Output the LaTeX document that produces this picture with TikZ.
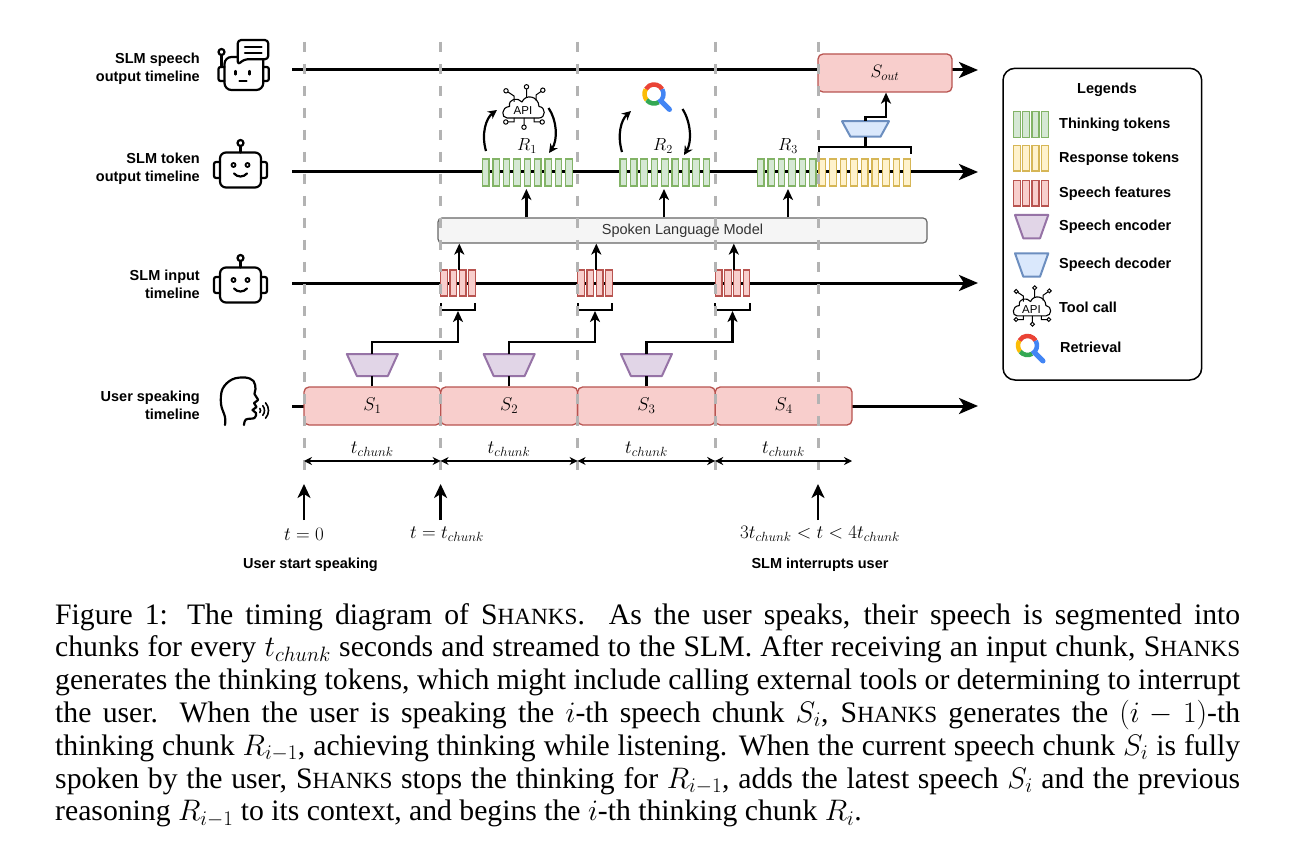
\documentclass[tikz,border=0pt]{standalone}
\usepackage{fix-cm}
\usepackage{fontspec}
\setmainfont{Liberation Serif}
\newfontfamily\hv{Liberation Sans}
\usetikzlibrary{arrows.meta}
\definecolor{gfill}{HTML}{D5E8D4}\definecolor{gdraw}{HTML}{82B366}
\definecolor{yfill}{HTML}{FFF2CC}\definecolor{ydraw}{HTML}{D6B656}
\definecolor{rfill}{HTML}{F8CECC}\definecolor{rdraw}{HTML}{B85450}
\definecolor{pfill}{HTML}{E1D5E7}\definecolor{pdraw}{HTML}{9673A6}
\definecolor{bfill}{HTML}{DAE8FC}\definecolor{bdraw}{HTML}{6C8EBF}
\definecolor{slmfill}{HTML}{F5F5F5}\definecolor{slmdraw}{HTML}{666666}
\definecolor{slmtxt}{HTML}{333333}
\definecolor{dashc}{HTML}{B3B3B3}
\definecolor{gred}{HTML}{EA4335}\definecolor{gyel}{HTML}{FBBC05}
\definecolor{ggrn}{HTML}{34A853}\definecolor{gblu}{HTML}{4285F4}
\newcommand\shk{S{\fontsize{23.2}{24}\selectfont HANKS}\spacefactor1000 }
\newcommand\capline[1]{\makebox[1185pt][s]{#1}}
\tikzset{
  timeline/.style={line width=3pt,-{Stealth[length=19pt,width=16pt,inset=5pt]}},
  conn/.style={line width=2.2pt,-{Stealth[length=11pt,width=10pt,inset=3pt]}},
  curv/.style={line width=2.2pt,-{Stealth[length=9pt,width=9pt,inset=3pt]}},
  brk/.style={line width=2.2pt},
  vdash/.style={draw=dashc,line width=3pt,dash pattern=on 10pt off 12pt},
  gtok/.style={fill=gfill,draw=gdraw,line width=1.2pt},
  ytok/.style={fill=yfill,draw=ydraw,line width=1.2pt},
  rtok/.style={fill=rfill,draw=rdraw,line width=1.2pt},
  enc/.style={fill=pfill,draw=pdraw,line width=2pt,line join=round},
  dec/.style={fill=bfill,draw=bdraw,line width=2pt,line join=round},
  sbox/.style={fill=rfill,draw=rdraw,line width=1.3pt,rounded corners=5pt,minimum height=38pt,inner sep=0pt,font=\fontsize{18.5}{20}\selectfont},
  rowlab/.style={align=right,anchor=east,font=\hv\bfseries\fontsize{14.5}{18}\selectfont,inner sep=0pt},
  leglab/.style={anchor=west,font=\hv\bfseries\fontsize{14.5}{18}\selectfont,inner sep=0pt},
  icon/.style={line width=2.2pt,line join=round,line cap=round},
  mlab/.style={inner sep=0pt,font=\fontsize{17.5}{20}\selectfont},
  tlab/.style={inner sep=0pt,font=\fontsize{19}{20}\selectfont},
  dimarr/.style={line width=1.5pt,{Stealth[length=8pt,width=8pt]}-{Stealth[length=8pt,width=8pt]}},
  uparr/.style={line width=2.5pt,-{Stealth[length=14pt,width=13pt,inset=4pt]}},
  caplab/.style={anchor=base west,inner sep=0pt,font=\fontsize{29.7}{32.8}\selectfont},
  trap/.pic={\path[pic actions] (-25.5,-11) -- (25.5,-11) -- (15.5,11) -- (-15.5,11) -- cycle;},
  trapd/.pic={\path[pic actions] (-23.5,-7.75) -- (23.5,-7.75) -- (15,7.75) -- (-15,7.75) -- cycle;},
  robot/.pic={
    \draw[icon,rounded corners=6pt] (-20.5,-17.5) rectangle (20.5,17.5);
    \draw[icon,rounded corners=2pt] (-20.5,-8) -- (-26.5,-8) -- (-26.5,8) -- (-20.5,8);
    \draw[icon,rounded corners=2pt] (20.5,-8) -- (26.5,-8) -- (26.5,8) -- (20.5,8);
    \draw[icon] (0,-17.5) -- (0,-24);
    \draw[icon] (0,-27) circle[radius=3];
    \draw[line width=1.8pt] (-7,-5) circle[radius=2] (7,-5) circle[radius=2];
    \draw[icon] (-6.5,3.5) .. controls (-3,7.5) and (3,7.5) .. (6.5,3.5);
  },
  apiicon/.pic={
    \draw[line width=1.1pt,line join=round] (-16,11) -- (16,11) .. controls (23,11) and (23,0) .. (16,-0.5) .. controls (15.5,-11) and (2.5,-13.5) .. (-1,-5) .. controls (-5,-10) and (-15,-8.5) .. (-13.5,-0.5) .. controls (-22,0) and (-22,11) .. (-16,11) -- cycle;
    \node[font=\hv\fontsize{11.5}{12}\selectfont,inner sep=0pt] at (0,3.5) {API};
    \draw[line width=1pt] (-9,-5) -- (-9,-11) -- (-15,-15) (3.5,-10) -- (3.5,-18) (13,-6) -- (13,-12) -- (18,-15.5)
      (-9,11) -- (-9,15) -- (-15,15) (1,11) -- (1,18) (11,11) -- (11,15) -- (17,15);
    \draw[line width=1pt] (-17,-16.2) circle[radius=2.2] (3.5,-20.2) circle[radius=2.2] (19.8,-16.8) circle[radius=2.2]
      (-17.2,15) circle[radius=2.2] (1,20.2) circle[radius=2.2] (19.2,15) circle[radius=2.2];
  },
  retr/.pic={
    \draw[line width=4.5pt,gred] (-30:9.5) arc[start angle=-30,end angle=-150,radius=9.5];
    \draw[line width=4.5pt,gyel] (-150:9.5) arc[start angle=-150,end angle=-220,radius=9.5];
    \draw[line width=4.5pt,ggrn] (-220:9.5) arc[start angle=-220,end angle=-300,radius=9.5];
    \draw[line width=4.5pt,gblu] (-300:9.5) arc[start angle=-300,end angle=-390,radius=9.5];
    \draw[line width=5pt,gblu,line cap=round] (7,7) -- (15.5,15.5);
  },
}
\begin{document}
\begin{tikzpicture}[x=1pt,y=-1pt]
\useasboundingbox (0,0) rectangle (1296,861);
\fill[white] (0,0) rectangle (1296,861);

% ---------- row labels and icons ----------
\node[rowlab] (lab1) at (200,68.3) {SLM speech\\output timeline};
\node[rowlab] (lab2) at (200,168.7) {SLM token\\output timeline};
\node[rowlab] (lab3) at (200,284) {SLM input\\timeline};
\node[rowlab] (lab4) at (200,405.8) {User speaking\\timeline};

% speech-output robot
\draw[icon,rounded corners=7pt] (238,57) -- (224.5,57) -- (224.5,90) -- (263.3,90) -- (263.3,60);
\draw[icon,rounded corners=2pt] (224.5,67) -- (218.5,67) -- (218.5,81) -- (224.5,81);
\draw[icon,rounded corners=2pt] (263.3,67) -- (268.8,67) -- (268.8,81) -- (263.3,81);
\draw[icon] (221.5,55) -- (221.5,67);
\draw[icon] (221.5,52) circle[radius=3];
\draw[icon,fill=white,rounded corners=3.5pt] (237.7,65) -- (237.7,40) -- (268.3,40) -- (268.3,59.3) -- (244,59.3) -- cycle;
\draw[icon] (245,47.3) -- (261.5,47.3) (245,52.8) -- (261.5,52.8);
\draw[icon] (235.5,71) -- (235.5,74.5) (249.5,71) -- (249.5,74.5);
\draw[icon] (239.5,81) -- (246.5,81);

\pic at (240.5,170) {robot};
\pic at (240.5,285) {robot};

% user head
\draw[icon] plot[smooth,tension=0.6] coordinates {(225,425) (225,417) (221,404) (222.5,389) (232,379.5) (245,377.5) (253.5,381) (255.5,389) (254.5,394) (258,400) (254,403) (256.5,407) (252.5,410) (256,413) (254.5,418) (246,419.5) (244,425)};
\draw[line width=1.6pt,line cap=round] ([shift={(35:3.5)}]257,410.5) arc[start angle=35,end angle=-35,radius=3.5];
\draw[line width=1.6pt,line cap=round] ([shift={(40:7.5)}]257,410.5) arc[start angle=40,end angle=-40,radius=7.5];
\draw[line width=1.6pt,line cap=round] ([shift={(42:11.5)}]257,410.5) arc[start angle=42,end angle=-42,radius=11.5];

% ---------- timelines ----------
\coordinate (a1) at (292,70);  \coordinate (b1) at (978,70);
\coordinate (a2) at (292,172); \coordinate (b2) at (978,172);
\coordinate (a3) at (292,283); \coordinate (b3) at (978,283);
\coordinate (a4) at (292,406); \coordinate (b4) at (978,406);
\draw[timeline] (a1) -- (b1);
\draw[timeline] (a2) -- (b2);
\draw[timeline] (a3) -- (b3);
\draw[timeline] (a4) -- (b4);

% ---------- user speech chunks ----------
\node[sbox,minimum width=136.7pt] (s1) at (372.35,406) {$S_1$};
\node[sbox,minimum width=136.9pt] (s2) at (509.15,406) {$S_2$};
\node[sbox,minimum width=137.6pt] (s3) at (646.4,406) {$S_3$};
\node[sbox,minimum width=136.8pt] (s4) at (783.6,406) {$S_4$};

% ---------- encoders and feature tokens ----------
\pic[enc] at (372.35,365) {trap};
\pic[enc] at (509.15,365) {trap};
\pic[enc] at (646.4,365) {trap};
\coordinate (e1t) at (372.35,354); \coordinate (e1b) at (372.35,376);
\coordinate (e2t) at (509.15,354); \coordinate (e2b) at (509.15,376);
\coordinate (e3t) at (646.4,354);  \coordinate (e3b) at (646.4,376);
\draw[brk] (s1.north) -- (e1b);
\draw[brk] (s2.north) -- (e2b);
\draw[brk] (s3.north) -- (e3b);

\foreach \g in {440.7,577.7,715.2}{
  \foreach \i in {0,...,3} \draw[rtok] ({\g+9.3*\i},270) rectangle ++(6.7,26);
  \draw[brk] (\g,303) -- (\g,310) -- ({\g+34.6},310) -- ({\g+34.6},303);
}
\coordinate (j1) at (458,342); \coordinate (k1) at (458,311);
\coordinate (j2) at (595,342); \coordinate (k2) at (595,311);
\coordinate (j3) at (732.5,342); \coordinate (k3) at (732.5,311);
\draw[conn] (e1t) |- (j1) -- (k1);
\draw[conn] (e2t) |- (j2) -- (k2);
\draw[conn] (e3t) |- (j3) -- (k3);

% ---------- SLM ----------
\node[fill=slmfill,draw=slmdraw,line width=1.2pt,rounded corners=4pt,minimum width=489pt,minimum height=25pt,inner sep=0pt,text=slmtxt,font=\hv\fontsize{14.5}{16}\selectfont] (slm) at (682.5,230.5) {Spoken Language Model};
\coordinate (f1) at (459.3,270); \coordinate (f2) at (596.3,270); \coordinate (f3) at (733.8,270);
\draw[conn] (f1) -- (slm.south -| f1);
\draw[conn] (f2) -- (slm.south -| f2);
\draw[conn] (f3) -- (slm.south -| f3);

% ---------- thinking / response tokens ----------
\foreach \i in {0,...,8} \draw[gtok] ({482.5+10.4*\i},159) rectangle ++(6.5,27);
\foreach \i in {0,...,8} \draw[gtok] ({620+10.4*\i},159) rectangle ++(6.5,27);
\foreach \i in {0,...,5} \draw[gtok] ({757.5+10.4*\i},159) rectangle ++(6.5,27);
\foreach \i in {0,...,8} \draw[ytok] ({819+10.6*\i},159) rectangle ++(6.5,27);
\coordinate (t1) at (526.4,189); \coordinate (t2) at (664,189); \coordinate (t3) at (788,189);
\draw[conn] (slm.north -| t1) -- (t1);
\draw[conn] (slm.north -| t2) -- (t2);
\draw[conn] (slm.north -| t3) -- (t3);
\node[mlab] (r1) at (527,146) {$R_1$};
\node[mlab] (r2) at (663,146) {$R_2$};
\node[mlab] (r3) at (788,146) {$R_3$};

% tool call / retrieval
\pic at (523,107) {apiicon};
\pic at (654,94) {retr};
\coordinate (c1a) at (486,151); \coordinate (c1b) at (497,110);
\coordinate (c1c) at (548.5,108); \coordinate (c1d) at (549,153);
\draw[curv] (c1a) .. controls (481,134) and (486,118) .. (c1b);
\draw[curv] (c1c) .. controls (557,120) and (558,140) .. (c1d);
\coordinate (c2a) at (622,152); \coordinate (c2b) at (631,111);
\coordinate (c2c) at (682.5,109); \coordinate (c2d) at (684,155);
\draw[curv] (c2a) .. controls (617,135) and (621,120) .. (c2b);
\draw[curv] (c2c) .. controls (691,122) and (692,142) .. (c2d);

% ---------- decoder and speech output ----------
\draw[brk] (819.3,154) -- (819.3,147) -- (910.7,147) -- (910.7,154);
\pic[dec] at (865.5,129) {trapd};
\coordinate (yb) at (865.5,147); \coordinate (db) at (865.5,136.75); \coordinate (dt) at (865.5,121.25);
\draw[brk] (yb) -- (db);
\node[sbox,font=\fontsize{18}{20}\selectfont,minimum width=134pt] (sout) at (885,73) {$S_{out}$};
\coordinate (dj) at (886,117);
\draw[conn] (dt) |- (dj) -- (sout.south -| dj);

% ---------- dashed time markers ----------
\foreach \x in {304,440.6,577.6,715.2,818} \draw[vdash] (\x,42) -- (\x,480);

% ---------- chunk durations ----------
\coordinate (d0) at (304,461); \coordinate (d1) at (440.6,461); \coordinate (d2) at (577.6,461);
\coordinate (d3) at (715.2,461); \coordinate (d4) at (852,461);
\draw[dimarr] (d0) -- (d1);
\draw[dimarr] (d1) -- (d2);
\draw[dimarr] (d2) -- (d3);
\draw[dimarr] (d3) -- (d4);
\node[tlab] (tc1) at (372.3,449) {$t_{chunk}$};
\node[tlab] (tc2) at (509.1,449) {$t_{chunk}$};
\node[tlab] (tc3) at (646.4,449) {$t_{chunk}$};
\node[tlab] (tc4) at (783.6,449) {$t_{chunk}$};

% ---------- event arrows ----------
\coordinate (u0a) at (304,520); \coordinate (u0b) at (304,484);
\coordinate (u1a) at (440.6,520); \coordinate (u1b) at (440.6,484);
\coordinate (u2a) at (818,520); \coordinate (u2b) at (818,484);
\draw[uparr] (u0a) -- (u0b);
\draw[uparr] (u1a) -- (u1b);
\draw[uparr] (u2a) -- (u2b);
\node[tlab] (lt0) at (304,534) {$t=0$};
\node[tlab] (lt1) at (447,534) {$t=t_{chunk}$};
\node[tlab] (lt2) at (820,534) {$3t_{chunk}<t<4t_{chunk}$};
\node[inner sep=0pt,font=\hv\bfseries\fontsize{14.5}{18}\selectfont] (lb1) at (310.5,565) {User start speaking};
\node[inner sep=0pt,font=\hv\bfseries\fontsize{14.5}{18}\selectfont] (lb2) at (820,565) {SLM interrupts user};

% ---------- legend ----------
\node[draw,line width=1.5pt,rounded corners=12pt,minimum width=198.7pt,minimum height=311.7pt,inner sep=0pt] (leg) at (1102.35,224.15) {};
\node[inner sep=0pt,font=\hv\bfseries\fontsize{14.5}{18}\selectfont] (legt) at (1107,90) {Legends};
\foreach \i in {0,...,3} \draw[gtok] ({1013.3+9.3*\i},111.7) rectangle ++(7,25.6);
\foreach \i in {0,...,3} \draw[ytok] ({1013.3+9.3*\i},145.5) rectangle ++(7,25.6);
\foreach \i in {0,...,3} \draw[rtok] ({1013.3+9.3*\i},180.5) rectangle ++(7,25.6);
\path[enc] (1015,215) -- (1048.3,215) -- (1040,238.3) -- (1023.3,238.3) -- cycle;
\path[dec] (1015,253.3) -- (1048.3,253.3) -- (1040,276.7) -- (1023.3,276.7) -- cycle;
\pic[scale=0.9] at (1031.5,306) {apiicon};
\pic at (1027.5,345.5) {retr};
\node[leglab] (lg1) at (1059,124.5) {Thinking tokens};
\node[leglab] (lg2) at (1059,159) {Response tokens};
\node[leglab] (lg3) at (1059,194) {Speech features};
\node[leglab] (lg4) at (1059,227) {Speech encoder};
\node[leglab] (lg5) at (1059,264.5) {Speech decoder};
\node[leglab] (lg6) at (1059,307) {Tool call};
\node[leglab] (lg7) at (1060,347.5) {Retrieval};

% ---------- caption ----------
\node[caplab] (cap1) at (55,624) {\capline{Figure 1: The timing diagram of \shk{}. As the user speaks, their speech is segmented into}};
\node[caplab] (cap2) at (55,656.8) {\capline{chunks for every $t_{chunk}$ seconds and streamed to the SLM. After receiving an input chunk, \shk{}}};
\node[caplab] (cap3) at (55,689.6) {\capline{generates the thinking tokens, which might include calling external tools or determining to interrupt}};
\node[caplab] (cap4) at (55,722.4) {\capline{the user. When the user is speaking the $i$-th speech chunk $S_i$, \shk{} generates the $(i-1)$-th}};
\node[caplab] (cap5) at (55,755.2) {\capline{thinking chunk $R_{i-1}$, achieving thinking while listening. When the current speech chunk $S_i$ is fully}};
\node[caplab] (cap6) at (55,788) {\capline{spoken by the user, \shk{} stops the thinking for $R_{i-1}$, adds the latest speech $S_i$ and the previous}};
\node[caplab] (cap7) at (55,820.8) {reasoning $R_{i-1}$ to its context, and begins the $i$-th thinking chunk $R_i$.};
\end{tikzpicture}
\end{document}
